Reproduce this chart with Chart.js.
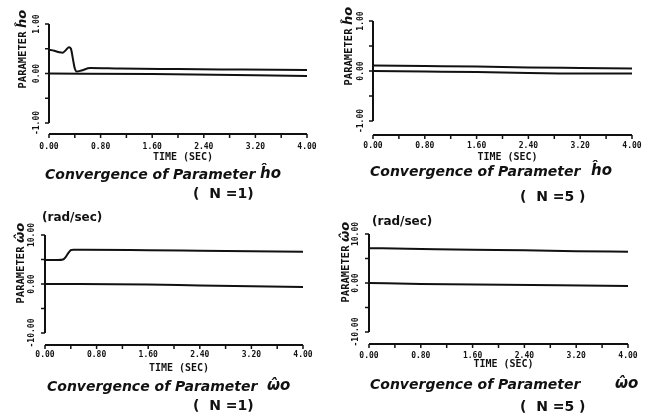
<!DOCTYPE html>
<html>
<head>
<meta charset="utf-8">
<script src="https://cdn.jsdelivr.net/npm/chart.js@4.4.1/dist/chart.umd.min.js"></script>
<style>
  html, body { margin: 0; padding: 0; background: #fff; }
  #wrap { position: relative; width: 650px; height: 416px; overflow: hidden; }
  .panel { position: absolute; width: 325px; height: 208px; }
</style>
</head>
<body>
<div id="wrap">
  <div class="panel" style="left:0;top:0"><canvas id="hN1" width="325" height="208"></canvas></div>
  <div class="panel" style="left:325px;top:0"><canvas id="hN5" width="325" height="208"></canvas></div>
  <div class="panel" style="left:0;top:208px"><canvas id="wN1" width="325" height="208"></canvas></div>
  <div class="panel" style="left:325px;top:208px"><canvas id="wN5" width="325" height="208"></canvas></div>
</div>

<script>
    // time axis (sec)
    const timeLabels = [0, 0.8, 1.6, 2.4, 3.2, 4.0];
    const timeMinor = [0, 0.4, 0.8, 1.2, 1.6, 2.0, 2.4, 2.8, 3.2, 3.6, 4.0];

    // h0 estimate, N = 1
    const tHN1 = [0, 0.08, 0.16, 0.21, 0.26, 0.31, 0.34, 0.37, 0.40, 0.43, 0.50, 0.64, 1.1, 2.0, 3.0, 4.0];
    const hEstN1 = [0.48, 0.46, 0.43, 0.42, 0.47, 0.53, 0.50, 0.30, 0.10, 0.04, 0.06, 0.11, 0.10, 0.09, 0.08, 0.07];
    const tHN1Ref = [0, 1.6, 4.0];
    const hRefN1 = [0, -0.01, -0.05];

    // h0 estimate, N = 5
    const tHN5 = [0, 0.8, 1.6, 2.4, 3.2, 4.0];
    const hEstN5 = [0.11, 0.10, 0.09, 0.07, 0.06, 0.05];
    const hRefN5 = [0, -0.01, -0.02, -0.04, -0.05, -0.05];

    // w0 estimate (rad/sec), N = 1
    const tWN1 = [0, 0.1, 0.2, 0.28, 0.32, 0.36, 0.40, 0.44, 0.6, 1.6, 2.4, 3.2, 4.0];
    const wEstN1 = [4.9, 4.9, 4.9, 5.0, 5.5, 6.3, 6.9, 7.0, 7.0, 6.9, 6.8, 6.7, 6.6];
    const tWN1Ref = [0, 1.6, 2.4, 4.0];
    const wRefN1 = [0, -0.1, -0.3, -0.6];

    // w0 estimate (rad/sec), N = 5
    const tWN5 = [0, 0.6, 1.6, 2.4, 3.2, 4.0];
    const wEstN5 = [7.1, 7.0, 6.8, 6.7, 6.5, 6.4];
    const tWN5Ref = [0, 0.8, 4.0];
    const wRefN5 = [0, -0.2, -0.6];

    const INK = '#111';
    const MONO = '"DejaVu Sans Mono"';

    function pts(ts, vs) {
        return ts.map((t, i) => ({ x: t, y: vs[i] }));
    }

    // pen-plotter style axes, drawn off the library's scales
    const plotter = {
        id: 'plotter',
        afterDraw(chart, args, o) {
            const ctx = chart.ctx;
            const xs = chart.scales.x, ys = chart.scales.y;
            const axisY = ys.bottom + o.gap;
            ctx.save();
            ctx.strokeStyle = INK;
            ctx.fillStyle = INK;

            // time axis
            ctx.lineWidth = 2;
            ctx.beginPath();
            ctx.moveTo(xs.left, axisY);
            ctx.lineTo(xs.right, axisY);
            ctx.stroke();
            ctx.lineWidth = 1.5;
            ctx.beginPath();
            timeMinor.forEach(t => {
                const px = xs.getPixelForValue(t);
                ctx.moveTo(px, axisY);
                ctx.lineTo(px, axisY + 4);
            });
            ctx.stroke();
            ctx.font = 'bold 8px ' + MONO;
            ctx.textAlign = 'center';
            ctx.textBaseline = 'middle';
            timeLabels.forEach(t => {
                ctx.fillText(t.toFixed(2), xs.getPixelForValue(t), axisY + o.tickLabelGap);
            });
            ctx.font = 'bold 10px ' + MONO;
            ctx.fillText('TIME (SEC)', (xs.left + xs.right) / 2 + 5, axisY + o.timeTitleGap);

            // parameter axis
            const yTop = ys.getPixelForValue(o.yTicks[o.yTicks.length - 1]);
            const yBot = ys.getPixelForValue(o.yTicks[0]);
            ctx.lineWidth = 2;
            ctx.beginPath();
            ctx.moveTo(ys.left, yTop);
            ctx.lineTo(ys.left, yBot);
            ctx.stroke();
            ctx.lineWidth = 1.5;
            ctx.beginPath();
            o.yTicks.forEach(v => {
                const py = ys.getPixelForValue(v);
                ctx.moveTo(ys.left, py);
                ctx.lineTo(ys.left - 4, py);
            });
            ctx.stroke();

            // rotated tick labels
            ctx.font = 'bold 8px ' + MONO;
            o.yLabels.forEach(v => {
                const py = ys.getPixelForValue(v);
                ctx.save();
                ctx.translate(ys.left - o.yLabelGap, py);
                ctx.rotate(-Math.PI / 2);
                ctx.fillText(v.toFixed(2), 0, 0);
                ctx.restore();
            });

            // rotated axis name and symbol
            ctx.save();
            ctx.translate(o.nameX, o.nameY);
            ctx.rotate(-Math.PI / 2);
            ctx.font = 'bold 10.5px ' + MONO;
            ctx.fillText('PARAMETER', 0, 0);
            ctx.font = 'italic bold 13px "DejaVu Sans"';
            ctx.textAlign = 'left';
            ctx.fillText(o.symbol, 32, 0);
            ctx.restore();

            if (o.unit) {
                ctx.font = 'bold 12px "DejaVu Sans"';
                ctx.textAlign = 'left';
                ctx.fillText(o.unit, o.unitX, o.unitY);
            }

            // caption
            ctx.font = 'italic bold 14px "DejaVu Sans"';
            ctx.textAlign = 'left';
            ctx.fillText('Convergence of Parameter', o.capX, o.capY);
            ctx.font = 'italic bold 15px "DejaVu Sans"';
            ctx.fillText(o.symbol, o.symX, o.capY - 1);
            ctx.font = 'bold 14px "DejaVu Sans"';
            ctx.fillText(o.caseText, o.caseX, o.caseY);
            ctx.restore();
        }
    };

    function makePanel(id, est, ref, yRange, pad, opts) {
        const ctx = document.getElementById(id).getContext('2d');
        return new Chart(ctx, {
            type: 'line',
            data: {
                datasets: [
                    { data: est, borderColor: INK, borderWidth: 2, pointRadius: 0, cubicInterpolationMode: 'monotone' },
                    { data: ref, borderColor: INK, borderWidth: 2, pointRadius: 0, cubicInterpolationMode: 'monotone' }
                ]
            },
            options: {
                responsive: false,
                animation: false,
                layout: { padding: pad },
                scales: {
                    x: { type: 'linear', min: 0, max: 4, display: false },
                    y: { type: 'linear', min: yRange[0], max: yRange[1], display: false }
                },
                plugins: {
                    legend: { display: false },
                    tooltip: { enabled: false },
                    plotter: opts
                }
            },
            plugins: [plotter]
        });
    }

    makePanel('hN1', pts(tHN1, hEstN1), pts(tHN1Ref, hRefN1), [-1, 1],
        { left: 49, right: 18, top: 24, bottom: 85 },
        {
            gap: 11, tickLabelGap: 13, timeTitleGap: 23,
            yTicks: [-1, -0.5, 0, 0.5, 1], yLabels: [-1, 0, 1], yLabelGap: 12,
            nameX: 23, nameY: 60, symbol: 'ĥo',
            capX: 45, capY: 175, symX: 260, caseText: '(  N =1)', caseX: 193, caseY: 194
        });

    makePanel('hN5', pts(tHN5, hEstN5), pts(tHN5, hRefN5), [-1, 1],
        { left: 48, right: 18, top: 21, bottom: 87 },
        {
            gap: 14, tickLabelGap: 11, timeTitleGap: 22,
            yTicks: [-1, -0.5, 0, 0.5, 1], yLabels: [-1, 0, 1], yLabelGap: 12,
            nameX: 24, nameY: 57, symbol: 'ĥo',
            capX: 45, capY: 172, symX: 266, caseText: '(  N =5 )', caseX: 195, caseY: 197
        });

    makePanel('wN1', pts(tWN1, wEstN1), pts(tWN1Ref, wRefN1), [-10, 10],
        { left: 45, right: 22, top: 27, bottom: 83 },
        {
            gap: 12, tickLabelGap: 10, timeTitleGap: 23,
            yTicks: [-10, -5, 0, 5, 10], yLabels: [-10, 0, 10], yLabelGap: 13,
            nameX: 21, nameY: 67, symbol: 'ω̂o', unit: '(rad/sec)', unitX: 42, unitY: 10,
            capX: 47, capY: 179, symX: 267, caseText: '(  N =1)', caseX: 193, caseY: 198
        });

    makePanel('wN5', pts(tWN5, wEstN5), pts(tWN5Ref, wRefN5), [-10, 10],
        { left: 44, right: 22, top: 26, bottom: 84 },
        {
            gap: 12, tickLabelGap: 12, timeTitleGap: 20,
            yTicks: [-10, -5, 0, 5, 10], yLabels: [-10, 0, 10], yLabelGap: 13,
            nameX: 21, nameY: 66, symbol: 'ω̂o', unit: '(rad/sec)', unitX: 47, unitY: 14,
            capX: 45, capY: 177, symX: 290, caseText: '(  N =5 )', caseX: 195, caseY: 199
        });
</script>
</body>
</html>
